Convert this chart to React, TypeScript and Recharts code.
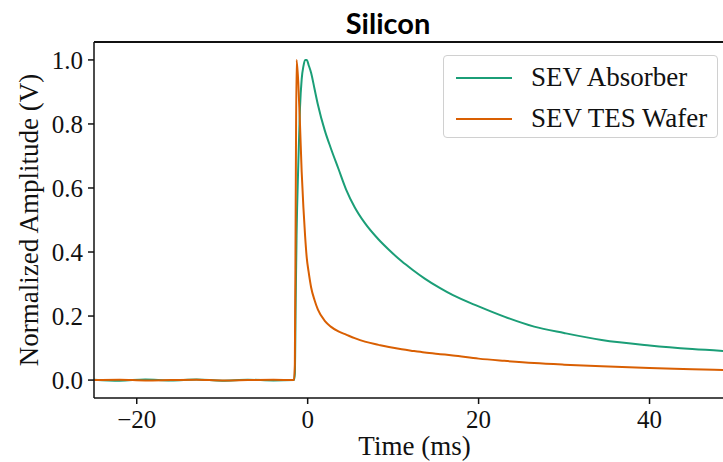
import { LineChart, Line, XAxis, YAxis, Legend, ReferenceLine } from 'recharts';

// time axis shared by both traces (ms)
const timeMs = [
  -25, -22, -19, -16, -13, -10, -7, -4, -1.6, -1.5, -1.4, -1.3, -1.1, -0.9, -0.7, -0.5, -0.3, -0.1,
  0.1, 0.4, 0.8, 1.2, 2.0, 2.7, 3.6, 4.5, 5.5, 6.7, 8.3, 9.5, 11, 12.3, 13.7, 15.5, 17, 20, 23, 26.5, 30, 34.4, 40, 45, 50,
];
const absorber = [
  0.001, -0.002, 0.002, -0.001, 0.002, -0.002, 0.001, -0.001, 0.0, 0.02, 0.25, 0.45, 0.67, 0.85, 0.94, 0.98, 1.0, 1.0,
  0.985, 0.96, 0.91, 0.86, 0.78, 0.725, 0.66, 0.595, 0.54, 0.49, 0.439, 0.407, 0.371, 0.344, 0.317, 0.287, 0.265, 0.23,
  0.198, 0.167, 0.147, 0.125, 0.108, 0.097, 0.089,
];
const tesWafer = [
  0.0, 0.001, -0.001, 0.0, 0.001, -0.001, 0.0, 0.001, 0.0, 0.05, 0.55, 1.0, 0.93, 0.8, 0.65, 0.54, 0.45, 0.38,
  0.34, 0.29, 0.25, 0.22, 0.185, 0.167, 0.152, 0.142, 0.131, 0.12, 0.11, 0.103, 0.096, 0.091, 0.086, 0.081, 0.077, 0.067,
  0.06, 0.053, 0.048, 0.043, 0.038, 0.034, 0.03,
];
const xTicks = [-20, 0, 20, 40];
const yTicks = [0, 0.2, 0.4, 0.6, 0.8, 1.0];
const xDomain = [-25, 50];
const yDomain = [-0.056, 1.056];

const series = [
  { key: 'absorber', name: 'SEV Absorber', color: '#1b9e77' },
  { key: 'wafer', name: 'SEV TES Wafer', color: '#d95f02' },
];

const rows = timeMs.map((t, i) => ({ t, absorber: absorber[i], wafer: tesWafer[i] }));

const serif = '"Liberation Serif", "Times New Roman", serif';
const ink = '#111';
const tickStyle = { fontSize: 25, fill: ink, fontFamily: serif };

function LegendBox() {
  return (
    <div
      style={{
        width: 275,
        height: 83,
        border: '1px solid #d0d0d0',
        borderRadius: 4,
        background: '#fff',
        fontFamily: serif,
        fontSize: 27,
        color: ink,
        boxSizing: 'border-box',
        paddingTop: 1,
      }}
    >
      {series.map((s) => (
        <div key={s.key} style={{ display: 'flex', alignItems: 'center', height: 41 }}>
          <div style={{ width: 56, height: 2, background: s.color, marginLeft: 12, marginRight: 19 }} />
          <span style={{ lineHeight: '41px' }}>{s.name}</span>
        </div>
      ))}
    </div>
  );
}

export default function App() {
  return (
    <div style={{ position: 'absolute', left: 0, top: 0, width: 723, height: 462, overflow: 'hidden', background: '#fff' }}>
      <div
        style={{
          position: 'absolute',
          left: 288,
          width: 200,
          top: 6,
          textAlign: 'center',
          fontFamily: 'Lato, sans-serif',
          fontWeight: 'bold',
          fontSize: 29,
          lineHeight: '34px',
          color: '#000',
        }}
      >
        Silicon
      </div>
      <LineChart width={745} height={462} data={rows} margin={{ top: 42, right: 10, bottom: 0, left: 0 }} style={{ fontFamily: serif }}>
        <XAxis
          dataKey="t"
          type="number"
          domain={xDomain}
          ticks={xTicks}
          allowDataOverflow
          height={64}
          tick={tickStyle}
          tickSize={6}
          tickMargin={6}
          tickFormatter={(v: number) => (v < 0 ? `\u2212${Math.abs(v)}` : `${v}`)}
          stroke={ink}
          strokeWidth={1.5}
          label={{ value: 'Time (ms)', position: 'insideBottom', offset: 7, fontSize: 27, fill: ink, fontFamily: serif }}
        />
        <YAxis
          type="number"
          domain={yDomain}
          ticks={yTicks}
          allowDataOverflow
          width={94}
          tick={tickStyle}
          tickSize={6}
          tickMargin={5}
          tickFormatter={(v: number) => v.toFixed(1)}
          stroke={ink}
          strokeWidth={1.5}
          label={{ value: 'Normalized Amplitude (V)', angle: -90, position: 'insideLeft', offset: 28, fontSize: 27, fill: ink, fontFamily: serif, style: { textAnchor: 'middle' } }}
        />
        <ReferenceLine y={yDomain[1]} stroke={ink} strokeWidth={2} ifOverflow="visible" />
        <Legend layout="horizontal" verticalAlign="middle" align="center" wrapperStyle={{ top: 55, left: 443, width: 275, height: 83 }} content={() => <LegendBox />} />
        {series.map((s) => (
          <Line
            key={s.key}
            type="monotone"
            dataKey={s.key}
            name={s.name}
            stroke={s.color}
            strokeWidth={2}
            dot={false}
            isAnimationActive={false}
          />
        ))}
      </LineChart>
    </div>
  );
}
